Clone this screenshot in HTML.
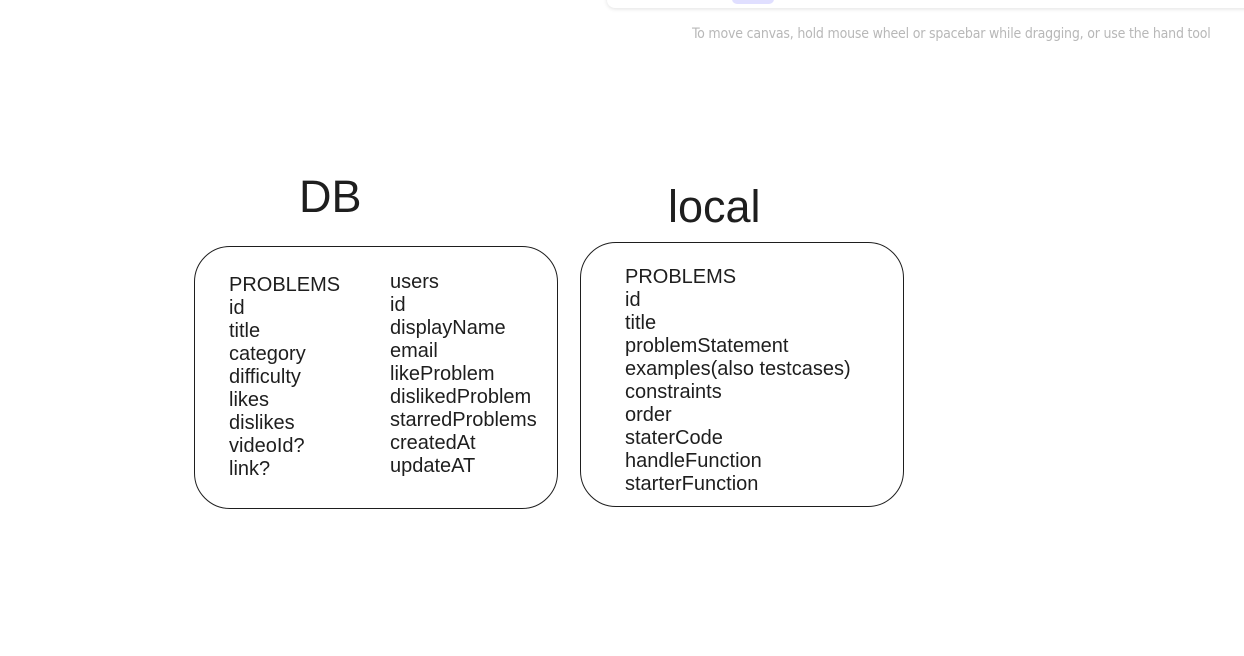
<!DOCTYPE html>
<html><head><meta charset="utf-8"><style>
body{margin:0;width:1244px;height:656px;background:#fff;position:relative;overflow:hidden;font-family:"Liberation Sans",Arial,sans-serif;color:#1e1e1e}
.t{position:absolute;font-size:20px;line-height:23px;white-space:pre}
.box{position:absolute;border:1.6px solid #1e1e1e;border-radius:36px}
</style></head><body>
<div style="position:absolute;left:607px;top:-20px;width:660px;height:28px;background:#fff;border-radius:8px;box-shadow:0 1px 4px rgba(0,0,0,0.12)"></div>
<div style="position:absolute;left:732px;top:-6px;width:42px;height:10px;background:#e0dfff;border-radius:5px"></div>
<div style="position:absolute;left:692px;top:26px;font-size:14px;color:#b8b8b8;white-space:nowrap;font-family:'DejaVu Sans Condensed','Liberation Sans Narrow',sans-serif;letter-spacing:-0.2px">To move canvas, hold mouse wheel or spacebar while dragging, or use the hand tool</div>
<div style="position:absolute;left:299px;top:171px;font-size:45px">DB</div>
<div style="position:absolute;left:668px;top:181px;font-size:45px">local</div>
<div class="box" style="left:194px;top:246px;width:362px;height:261px"></div>
<div class="box" style="left:580px;top:242px;width:322px;height:263px"></div>
<div class="t" style="left:229px;top:274px">PROBLEMS
id
title
category
difficulty
likes
dislikes
videoId?
link?</div>
<div class="t" style="left:390px;top:271px">users
id
displayName
email
likeProblem
dislikedProblem
starredProblems
createdAt
updateAT</div>
<div class="t" style="left:625px;top:266px">PROBLEMS
id
title
problemStatement
examples(also testcases)
constraints
order
staterCode
handleFunction
starterFunction</div>
</body></html>
